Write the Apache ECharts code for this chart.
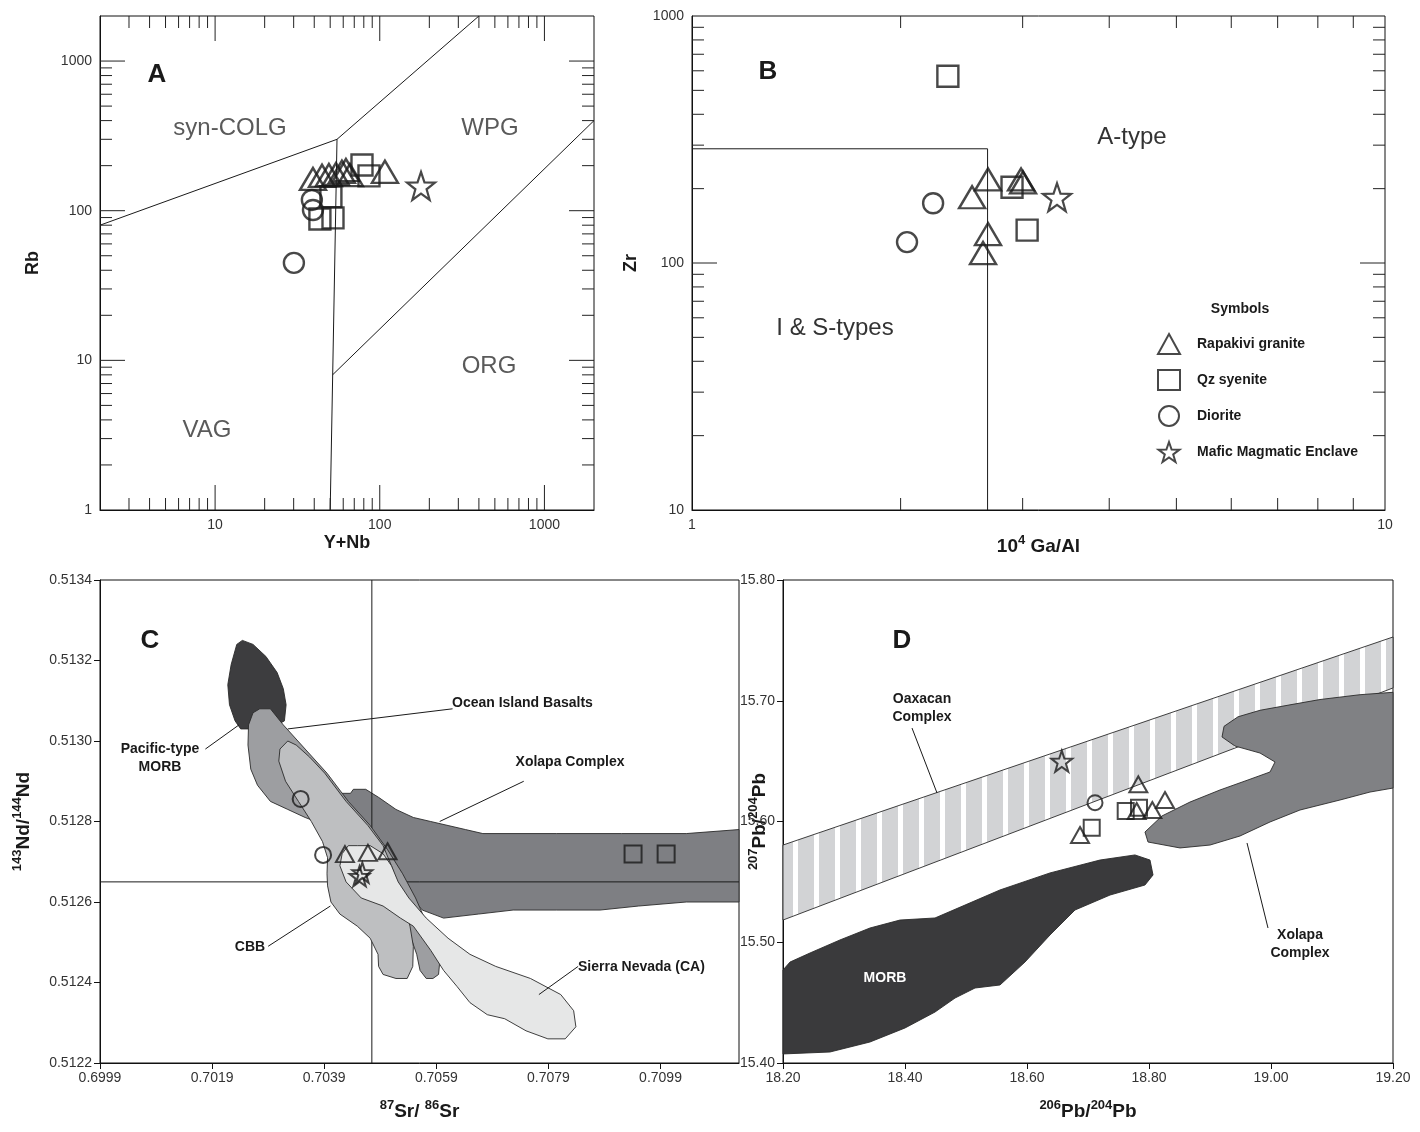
<!DOCTYPE html>
<html><head><meta charset="utf-8">
<script src="https://cdn.jsdelivr.net/npm/echarts@6/dist/echarts.min.js"></script>
<style>html,body{margin:0;padding:0;background:#fff}#c{width:1420px;height:1132px}</style>
</head><body><div id="c"></div>
<script>
const FONT = '"Liberation Sans", Arial, Helvetica, sans-serif';

// ---------- tick labels ----------
const A_xLabels = [10, 100, 1000];
const A_yLabels = [1, 10, 100, 1000];
const B_xLabels = [1, 10];
const B_yLabels = [10, 100, 1000];
const C_xLabels = [0.6999, 0.7019, 0.7039, 0.7059, 0.7079, 0.7099];
const C_yLabels = [0.5122, 0.5124, 0.5126, 0.5128, 0.5130, 0.5132, 0.5134];
const D_xLabels = [18.2, 18.4, 18.6, 18.8, 19.0, 19.2];
const D_yLabels = [15.4, 15.5, 15.6, 15.7, 15.8];

const SERIES_NAMES = ['Rapakivi granite', 'Qz syenite', 'Diorite', 'Mafic Magmatic Enclave'];

// ---------- Panel A (Rb vs Y+Nb) ----------
const A_tri = [[39.3,163],[44.6,171],[49.1,173],[54.2,176],[58.9,182],[62.3,187],[65.9,173],[107.5,182]];
const A_sq = [[43.3,88],[52.0,89.5],[50.5,124],[78,202],[86,171]];
const A_circ = [[30.1,44.8],[38.7,118],[39.3,101]];
const A_star = [[178,146.5]];
const A_synColg = [[2,80],[55,300]];
const A_wpgTop = [[55,300],[400,2000]];
const A_vag = [[50,1],[55,300]];
const A_org = [[51.7,8],[2000,400]];

// ---------- Panel B (Zr vs 10^4 Ga/Al) ----------
const B_tri = [[2.674,218],[2.536,184.6],[2.984,218],[3.004,212],[2.674,130.9],[2.63,109.7]];
const B_sq = [[2.34,570],[2.896,202.5],[3.045,135.9]];
const B_circ = [[2.228,174.6],[2.043,121.5]];
const B_star = [[3.363,184.6]];
const B_hLine = [[1,290],[2.67,290]];
const B_vLine = [[2.67,10],[2.67,290]];

// ---------- Panel C (Nd vs Sr) ----------
const C_tri = [[0.70427,0.512719],[0.70468,0.512722],[0.70503,0.512726]];
const C_sq = [[0.70941,0.512719],[0.71000,0.512719]];
const C_circ = [[0.70348,0.512856],[0.70388,0.512717]];
const C_star = [[0.70453,0.512664],[0.70458,0.512673]];
const C_vRef = [[0.70475,0.5122],[0.70475,0.5134]];
const C_hRef = [[0.6999,0.51265],[0.7113,0.51265]];
const C_MORB = [[0.70244,0.51325],[0.70263,0.51324],[0.70286,0.51321],[0.70306,0.51317],[0.70317,0.51313],[0.70322,0.51309],[0.70319,0.51305],[0.70306,0.51304],[0.70263,0.51303],[0.70241,0.51303],[0.70231,0.51305],[0.70221,0.51309],[0.70218,0.51314],[0.70224,0.51319],[0.70234,0.51324]];
const C_XOL = [[0.70416,0.51287],[0.70437,0.51287],[0.70442,0.51288],[0.70464,0.51288],[0.70487,0.51286],[0.70518,0.51283],[0.70549,0.51281],[0.7058,0.5128],[0.70611,0.51279],[0.70642,0.51278],[0.70673,0.51277],[0.70804,0.51277],[0.7092,0.51277],[0.71036,0.51277],[0.7113,0.51278],[0.7113,0.5126],[0.71036,0.5126],[0.70951,0.51259],[0.70882,0.51258],[0.70804,0.51258],[0.70727,0.51258],[0.70665,0.51257],[0.70603,0.51256],[0.70565,0.51258],[0.70541,0.51262],[0.7051,0.51269],[0.7048,0.51276],[0.70449,0.51281],[0.70425,0.51285]];
const C_OIB = [[0.70275,0.51308],[0.70294,0.51308],[0.70317,0.51304],[0.70356,0.51298],[0.70395,0.51292],[0.70433,0.51285],[0.70472,0.51279],[0.70503,0.51273],[0.7053,0.51267],[0.70553,0.51261],[0.70572,0.51255],[0.70588,0.5125],[0.70596,0.51245],[0.70594,0.51242],[0.70584,0.51241],[0.70572,0.51241],[0.70561,0.51243],[0.70555,0.51247],[0.70545,0.51251],[0.70495,0.51264],[0.70418,0.51276],[0.70375,0.5128],[0.70356,0.51281],[0.70325,0.51283],[0.70294,0.51285],[0.70271,0.51289],[0.70259,0.51293],[0.70254,0.51299],[0.70255,0.51304],[0.70263,0.51307]];
const C_CBB = [[0.70325,0.513],[0.7034,0.51299],[0.70364,0.51296],[0.70391,0.51292],[0.70429,0.51285],[0.70468,0.51279],[0.70495,0.51274],[0.7051,0.51269],[0.70522,0.51264],[0.70534,0.51259],[0.70543,0.51254],[0.70549,0.51249],[0.70548,0.51244],[0.70538,0.51241],[0.70518,0.51241],[0.70495,0.51242],[0.70487,0.51244],[0.70486,0.51247],[0.70472,0.51251],[0.70449,0.51254],[0.70418,0.51257],[0.70402,0.5126],[0.70396,0.51264],[0.70395,0.51267],[0.70396,0.51271],[0.70387,0.51275],[0.70367,0.5128],[0.70344,0.51285],[0.70321,0.5129],[0.70309,0.51295],[0.70311,0.51298]];
const C_SN = [[0.70449,0.51274],[0.70433,0.51274],[0.70422,0.51272],[0.70418,0.51269],[0.70429,0.51265],[0.70456,0.51261],[0.70495,0.51259],[0.70526,0.51256],[0.70549,0.51254],[0.7058,0.51248],[0.70603,0.51243],[0.70627,0.51239],[0.7065,0.51235],[0.70681,0.51232],[0.70712,0.51231],[0.7075,0.51228],[0.70789,0.51226],[0.7082,0.51226],[0.70839,0.51229],[0.70835,0.51233],[0.70812,0.51237],[0.70758,0.51241],[0.70696,0.51244],[0.7065,0.51247],[0.70611,0.51251],[0.70572,0.51256],[0.70541,0.51261],[0.70522,0.51265],[0.7051,0.51269],[0.70495,0.51272],[0.70472,0.51274]];
const C_leaders = [
  [[0.70325,0.51303],[0.70619,0.51308]],
  [[0.70178,0.51298],[0.70238,0.51304]],
  [[0.70596,0.5128],[0.70746,0.5129]],
  [[0.7029,0.51249],[0.70401,0.51259]],
  [[0.70773,0.51237],[0.70843,0.51244]]
];

// ---------- Panel D (207Pb/204Pb vs 206Pb/204Pb) ----------
const D_tri = [[18.7825,15.6308],[18.8262,15.6178],[18.8054,15.6095],[18.7798,15.6087],[18.6869,15.5888]];
const D_sq = [[18.7618,15.6087],[18.7836,15.6114],[18.7061,15.5949]];
const D_circ = [[18.7115,15.6156]];
const D_star = [[18.657,15.650]];
const D_BAND = [[18.2,15.5805],[19.2,15.7528],[19.2,15.7106],[18.2,15.5184]];
const D_MORB = [[18.2,15.477],[18.2115,15.4836],[18.2443,15.4911],[18.2934,15.5019],[18.3426,15.5118],[18.3918,15.5184],[18.4492,15.5201],[18.4984,15.5308],[18.5557,15.5433],[18.6377,15.5574],[18.7197,15.5681],[18.777,15.5723],[18.8016,15.5681],[18.8066,15.5557],[18.7934,15.5474],[18.7361,15.5391],[18.6787,15.5267],[18.6377,15.506],[18.5967,15.4836],[18.5557,15.4646],[18.5148,15.4621],[18.482,15.4538],[18.4492,15.4422],[18.4,15.429],[18.3426,15.4174],[18.277,15.4091],[18.2,15.4075]];
const D_XOL = [[19.2,15.707],[19.1459,15.705],[19.0803,15.701],[19.0311,15.6966],[18.982,15.6921],[18.9459,15.6867],[18.923,15.6788],[18.9197,15.67],[18.941,15.6625],[18.982,15.6567],[19.0066,15.6493],[18.9984,15.641],[18.9623,15.6344],[18.9164,15.6261],[18.8672,15.6161],[18.8213,15.6046],[18.7934,15.5913],[18.7984,15.583],[18.8508,15.5781],[18.9,15.5805],[18.9492,15.588],[18.9984,15.5996],[19.0475,15.6095],[19.1131,15.6178],[19.1623,15.6244],[19.2,15.6277]];
const D_leaders = [
  [[18.4115,15.6774],[18.4525,15.6236]],
  [[18.9607,15.5822],[18.9951,15.5118]]
];

// ---------- helpers ----------
const STAR = 'path://M10,0L12.351,6.764L19.511,6.91L13.804,11.236L15.878,18.09L10,14L4.122,18.09L6.196,11.236L0.489,6.91L7.649,6.764Z';
const near = (list, v) => list.some(t => Math.abs(t - v) <= 1e-7 * Math.max(1, Math.abs(t)));
const isPow10 = v => { const l = Math.log10(v); return Math.abs(l - Math.round(l)) < 1e-6; };
const labStyle = {fontFamily: FONT, fontSize: 14, color: '#333'};
const nameStyle = {fontFamily: FONT, fontSize: 18, fontWeight: 'bold', color: '#1a1a1a'};
const richName = {
  b: {fontFamily: FONT, fontSize: 19, fontWeight: 'bold', color: '#1a1a1a'},
  sup: {fontFamily: FONT, fontSize: 13, fontWeight: 'bold', color: '#1a1a1a', padding: [0, 0, 12, 0]}
};

function logAxis(gi, min, max, labels, name, nameGap, extra) {
  return Object.assign({
    gridIndex: gi, type: 'log', logBase: 10, min, max,
    axisLine: {show: true, lineStyle: {color: '#111', width: 1}},
    axisTick: {show: false}, splitLine: {show: false},
    axisLabel: Object.assign({}, labStyle, {formatter: v => near(labels, v) ? String(Math.round(v)) : ''}),
    name, nameLocation: 'middle', nameGap, nameTextStyle: Object.assign({}, nameStyle, {rich: richName})
  }, extra || {});
}
function linAxis(gi, min, max, interval, labels, dec, name, nameGap, extra) {
  return Object.assign({
    gridIndex: gi, type: 'value', min, max, interval,
    axisLine: {show: true, lineStyle: {color: '#111', width: 1}},
    axisTick: {show: true, length: 6, lineStyle: {color: '#111'}, customValues: labels},
    splitLine: {show: false},
    axisLabel: Object.assign({}, labStyle, {customValues: labels, formatter: v => near(labels, v) ? v.toFixed(dec) : ''}),
    name, nameLocation: 'middle', nameGap, nameTextStyle: Object.assign({}, nameStyle, {rich: richName})
  }, extra || {});
}
function logTickValues(lo, hi) {
  const out = [];
  for (let d = Math.pow(10, Math.floor(Math.log10(lo))); d <= hi * 1.0001; d *= 10)
    for (let m = 1; m <= 9; m++) { const v = m * d; if (v > lo * 1.0001 && v < hi * 0.9999) out.push(v); }
  return out;
}
function tickSeries(gi, xr, yr) {
  const data = logTickValues(xr[0], xr[1]).map(v => [v, yr[0], 0])
    .concat(logTickValues(yr[0], yr[1]).map(v => [xr[0], v, 1]));
  return {
    type: 'custom', xAxisIndex: gi, yAxisIndex: gi, silent: true, z: 20, data,
    encode: {x: 0, y: 1},
    renderItem: (params, api) => {
      const x = api.value(0), y = api.value(1), kind = api.value(2);
      const st = {stroke: '#222', lineWidth: 1};
      if (kind === 0) {
        const len = isPow10(x) ? 25 : 12;
        const b = api.coord([x, yr[0]]), t = api.coord([x, yr[1]]);
        return {type: 'group', children: [
          {type: 'line', shape: {x1: b[0], y1: b[1], x2: b[0], y2: b[1] - len}, style: st},
          {type: 'line', shape: {x1: t[0], y1: t[1], x2: t[0], y2: t[1] + len}, style: st}]};
      }
      const len = isPow10(y) ? 25 : 12;
      const l = api.coord([xr[0], y]), r = api.coord([xr[1], y]);
      return {type: 'group', children: [
        {type: 'line', shape: {x1: l[0], y1: l[1], x2: l[0] + len, y2: l[1]}, style: st},
        {type: 'line', shape: {x1: r[0], y1: r[1], x2: r[0] - len, y2: r[1]}, style: st}]};
    }
  };
}
function poly(gi, pts, fill, z, stroke) {
  return {
    type: 'custom', xAxisIndex: gi, yAxisIndex: gi, silent: true, z,
    data: [pts[0]], encode: {x: 0, y: 1},
    renderItem: (params, api) => ({
      type: 'polygon', shape: {points: pts.map(p => api.coord(p))},
      style: {fill, stroke: stroke || '#2a2a2a', lineWidth: 0.9}
    })
  };
}
function seg(gi, data, z, width) {
  return {type: 'line', xAxisIndex: gi, yAxisIndex: gi, data, symbol: 'none', showSymbol: false,
    silent: true, z: z || 8, lineStyle: {color: '#1a1a1a', width: width || 1}};
}
function sc(gi, name, data, symbol, size, bw) {
  return {type: 'scatter', name, xAxisIndex: gi, yAxisIndex: gi, data, symbol, symbolSize: size,
    silent: true, z: 30,
    itemStyle: {color: 'rgba(0,0,0,0)', borderColor: '#1a1a1a', borderWidth: bw}};
}
function txt(x, y, text, font, fill, align) {
  return {type: 'text', x, y, silent: true, z: 100,
    style: {text, font, fill: fill || '#1a1a1a', align: align || 'center', verticalAlign: 'middle', lineHeight: 18}};
}

// stripe pattern for Oaxacan band
const pc = document.createElement('canvas');
pc.width = 21; pc.height = 8;
const pctx = pc.getContext('2d');
pctx.fillStyle = '#d2d3d5'; pctx.fillRect(0, 0, 21, 8);
pctx.fillStyle = '#ffffff'; pctx.fillRect(16, 0, 5, 8);

const F_BIG = 'bold 26px ' + FONT;
const F_REG = '24px ' + FONT;
const F_LAB = 'bold 14px ' + FONT;

const chart = echarts.init(document.getElementById('c'), null, {renderer: 'canvas'});
chart.setOption({
  animation: false,
  backgroundColor: '#fff',
  grid: [
    {left: 100, top: 16, width: 494, height: 494, show: true, borderColor: '#111', borderWidth: 1},
    {left: 692, top: 16, width: 693, height: 494, show: true, borderColor: '#111', borderWidth: 1},
    {left: 100, top: 580, width: 639, height: 483, show: true, borderColor: '#111', borderWidth: 1},
    {left: 783, top: 580, width: 610, height: 483, show: true, borderColor: '#111', borderWidth: 1}
  ],
  xAxis: [
    logAxis(0, 2, 2000, A_xLabels, 'Y+Nb', 24),
    logAxis(1, 1, 10, B_xLabels, '{b|10}{sup|4}{b| Ga/Al}', 24),
    linAxis(2, 0.6999, 0.7113, 0.002, C_xLabels, 4, '{sup|87}{b|Sr/ }{sup|86}{b|Sr}', 36),
    linAxis(3, 18.2, 19.2, 0.2, D_xLabels, 2, '{sup|206}{b|Pb/}{sup|204}{b|Pb}', 36)
  ],
  yAxis: [
    logAxis(0, 1, 2000, A_yLabels, 'Rb', 58),
    logAxis(1, 10, 1000, B_yLabels, 'Zr', 52),
    linAxis(2, 0.5122, 0.5134, 0.0002, C_yLabels, 4, '{sup|143}{b|Nd/}{sup|144}{b|Nd}', 64),
    linAxis(3, 15.4, 15.8, 0.1, D_yLabels, 2, '{sup|207}{b|Pb/}{sup|204}{b|Pb}', 11, {nameMoveOverlap: false})
  ],
  legend: {
    data: SERIES_NAMES, orient: 'vertical', left: 1152, top: 328, itemWidth: 22, itemHeight: 20, itemGap: 14,
    selectedMode: false,
    textStyle: {fontFamily: FONT, fontSize: 14, fontWeight: 'bold', color: '#1a1a1a', padding: [0, 0, 0, 12]},
    itemStyle: {color: 'rgba(0,0,0,0)', borderColor: '#1a1a1a', borderWidth: 2}
  },
  graphic: [
    txt(157, 75, 'A', F_BIG), txt(230, 128, 'syn-COLG', F_REG, '#5a5a5a'), txt(490, 128, 'WPG', F_REG, '#5a5a5a'),
    txt(489, 366, 'ORG', F_REG, '#5a5a5a'), txt(207, 430, 'VAG', F_REG, '#5a5a5a'),
    txt(768, 72, 'B', F_BIG), txt(1132, 137, 'A-type', F_REG, '#333'), txt(835, 328, 'I & S-types', F_REG, '#333'),
    txt(1240, 309, 'Symbols', F_LAB),
    txt(150, 641, 'C', F_BIG),
    txt(452, 703, 'Ocean Island Basalts', F_LAB, null, 'left'),
    txt(160, 758, 'Pacific-type\nMORB', F_LAB),
    txt(570, 762, 'Xolapa Complex', F_LAB),
    txt(250, 947, 'CBB', F_LAB),
    txt(578, 967, 'Sierra Nevada (CA)', F_LAB, null, 'left'),
    txt(902, 641, 'D', F_BIG),
    txt(922, 708, 'Oaxacan\nComplex', F_LAB),
    txt(1300, 944, 'Xolapa\nComplex', F_LAB),
    txt(885, 978, 'MORB', F_LAB, '#ffffff')
  ],
  series: [
    // Panel A
    tickSeries(0, [2, 2000], [1, 2000]),
    seg(0, A_synColg), seg(0, A_wpgTop), seg(0, A_vag), seg(0, A_org),
    sc(0, SERIES_NAMES[0], A_tri, 'triangle', [26, 22], 2.4),
    sc(0, SERIES_NAMES[1], A_sq, 'rect', 21, 2.4),
    sc(0, SERIES_NAMES[2], A_circ, 'circle', 20, 2.4),
    sc(0, SERIES_NAMES[3], A_star, STAR, 28, 2.2),
    // Panel B
    tickSeries(1, [1, 10], [10, 1000]),
    seg(1, B_hLine), seg(1, B_vLine),
    sc(1, SERIES_NAMES[0], B_tri, 'triangle', [26, 22], 2.4),
    sc(1, SERIES_NAMES[1], B_sq, 'rect', 21, 2.4),
    sc(1, SERIES_NAMES[2], B_circ, 'circle', 20, 2.4),
    sc(1, SERIES_NAMES[3], B_star, STAR, 28, 2.2),
    // Panel C
    poly(2, C_MORB, '#3d3d3f', 1),
    poly(2, C_XOL, '#7e7f83', 2),
    seg(2, C_vRef, 3), seg(2, C_hRef, 3),
    poly(2, C_OIB, '#9d9ea1', 4),
    poly(2, C_CBB, '#bebfc1', 5),
    poly(2, C_SN, '#e6e7e7', 6),
  ].concat(C_leaders.map(d => seg(2, d, 7))).concat([
    sc(2, SERIES_NAMES[0], C_tri, 'triangle', [18, 16], 2),
    sc(2, SERIES_NAMES[1], C_sq, 'rect', 17, 2),
    sc(2, SERIES_NAMES[2], C_circ, 'circle', 16, 2),
    sc(2, SERIES_NAMES[3], C_star, STAR, 20, 2),
    // Panel D
    poly(3, D_BAND, {image: pc, repeat: 'repeat'}, 1),
    poly(3, D_MORB, '#3a3a3c', 2),
    poly(3, D_XOL, '#808184', 3),
  ]).concat(D_leaders.map(d => seg(3, d, 7))).concat([
    sc(3, SERIES_NAMES[0], D_tri, 'triangle', [18, 16], 2),
    sc(3, SERIES_NAMES[1], D_sq, 'rect', 16, 2),
    sc(3, SERIES_NAMES[2], D_circ, 'circle', 15, 2),
    sc(3, SERIES_NAMES[3], D_star, STAR, 21, 2)
  ])
});
</script>
</body></html>
